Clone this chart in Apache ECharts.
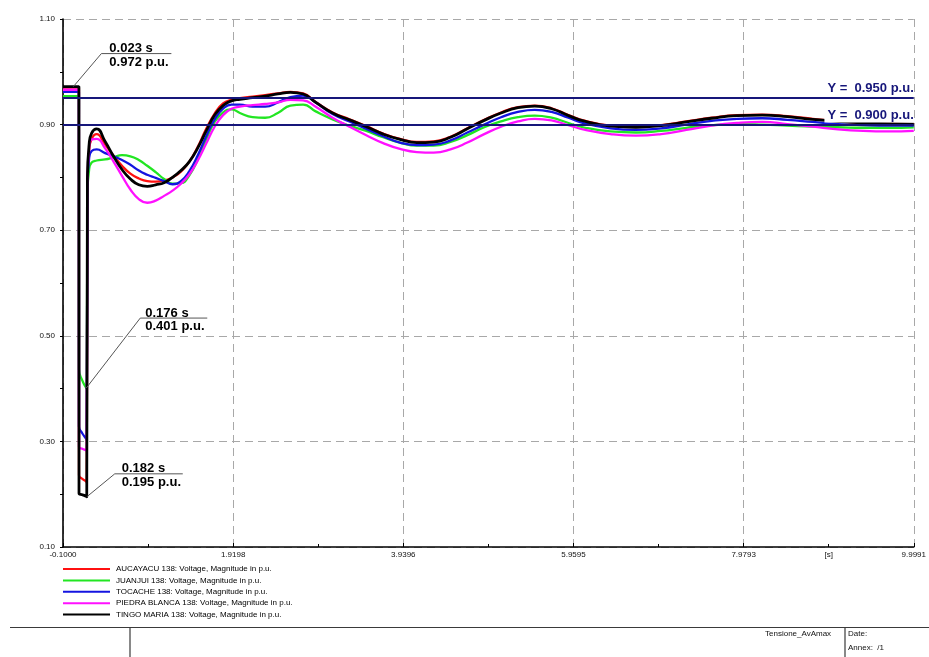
<!DOCTYPE html>
<html>
<head>
<meta charset="utf-8">
<title>Tensione_AvAmax</title>
<script src="https://cdn.jsdelivr.net/npm/echarts@6/dist/echarts.min.js"></script>
<style>
  html, body { margin: 0; padding: 0; background: #ffffff; }
  #main { width: 929px; height: 657px; }
</style>
</head>
<body>
<div id="main"></div>
<script>
// Simulation time [s]
const time = [
  -0.1, 0.023, 0.089, 0.09, 0.13, 0.176, 0.182, 0.19, 0.21, 0.24,
  0.30, 0.40, 0.50, 0.60, 0.70, 0.80, 0.90, 1.00, 1.10, 1.20,
  1.30, 1.40, 1.50, 1.60, 1.70, 1.80, 1.90, 2.00, 2.15, 2.30,
  2.45, 2.60, 2.75, 2.90, 3.10, 3.30, 3.50, 3.70, 3.90, 4.10,
  4.30, 4.50, 4.70, 4.90, 5.10, 5.30, 5.50, 5.70, 5.90, 6.10,
  6.40, 6.70, 7.00, 7.30, 7.60, 7.90, 8.20, 8.50, 8.80, 9.10,
  9.40, 9.70, 9.9991
];

// Bus voltages, magnitude in p.u.
const aucayacu = [
  0.970, 0.970, 0.970, 0.236, 0.229, 0.224, 0.222, 0.780, 0.850, 0.873,
  0.882, 0.862, 0.841, 0.822, 0.807, 0.798, 0.793, 0.792, 0.794, 0.800,
  0.811, 0.830, 0.858, 0.892, 0.921, 0.940, 0.947, 0.950, 0.953, 0.956,
  0.959, 0.962, 0.959, 0.943, 0.923, 0.910, 0.897, 0.883, 0.873, 0.867,
  0.868, 0.877, 0.893, 0.909, 0.923, 0.933, 0.936, 0.931, 0.918, 0.907,
  0.898, 0.896, 0.899, 0.906, 0.913, 0.918, 0.919, 0.916, 0.911, 0.906,
  0.903, 0.902, 0.901
];
const juanjui = [
  0.954, 0.954, 0.954, 0.436, 0.415, 0.401, 0.400, 0.770, 0.815, 0.828,
  0.832, 0.834, 0.838, 0.842, 0.840, 0.833, 0.822, 0.810, 0.797, 0.788,
  0.789, 0.804, 0.834, 0.872, 0.905, 0.923, 0.929, 0.922, 0.914, 0.913,
  0.922, 0.936, 0.938, 0.925, 0.910, 0.898, 0.888, 0.876, 0.866, 0.860,
  0.860, 0.867, 0.880, 0.895, 0.906, 0.914, 0.917, 0.913, 0.903, 0.894,
  0.887, 0.885, 0.888, 0.894, 0.899, 0.901, 0.900, 0.898, 0.896, 0.895,
  0.894, 0.894, 0.895
];
const tocache = [
  0.962, 0.962, 0.962, 0.328, 0.315, 0.305, 0.303, 0.780, 0.836, 0.850,
  0.853, 0.846, 0.840, 0.833, 0.824, 0.813, 0.805, 0.799, 0.793, 0.787,
  0.793, 0.812, 0.842, 0.878, 0.910, 0.930, 0.938, 0.938, 0.934, 0.934,
  0.942, 0.952, 0.955, 0.942, 0.920, 0.906, 0.892, 0.878, 0.866, 0.861,
  0.862, 0.870, 0.885, 0.900, 0.914, 0.924, 0.928, 0.924, 0.913, 0.902,
  0.893, 0.890, 0.893, 0.900, 0.907, 0.911, 0.912, 0.909, 0.905, 0.901,
  0.899, 0.898, 0.898
];
const piedraBlanca = [
  0.966, 0.966, 0.966, 0.290, 0.286, 0.283, 0.282, 0.780, 0.855, 0.872,
  0.873, 0.855, 0.830, 0.803, 0.777, 0.759, 0.752, 0.756, 0.765, 0.775,
  0.788, 0.806, 0.832, 0.864, 0.896, 0.918, 0.930, 0.934, 0.937, 0.939,
  0.942, 0.947, 0.946, 0.934, 0.913, 0.896, 0.880, 0.865, 0.854, 0.848,
  0.847, 0.853, 0.866, 0.882, 0.896, 0.906, 0.911, 0.908, 0.899, 0.890,
  0.882, 0.879, 0.882, 0.890, 0.898, 0.903, 0.905, 0.901, 0.896, 0.891,
  0.888, 0.887, 0.888
];
const tingoMaria = [
  0.972, 0.972, 0.972, 0.202, 0.199, 0.196, 0.195, 0.800, 0.862, 0.884,
  0.892, 0.868, 0.840, 0.815, 0.797, 0.786, 0.783, 0.786, 0.790, 0.800,
  0.813, 0.830, 0.856, 0.888, 0.918, 0.936, 0.945, 0.948, 0.951, 0.954,
  0.958, 0.961, 0.958, 0.942, 0.922, 0.909, 0.896, 0.882, 0.872, 0.866,
  0.867, 0.876, 0.892, 0.908, 0.922, 0.932, 0.935, 0.930, 0.917, 0.906,
  0.897, 0.895, 0.898, 0.905, 0.912, 0.917, 0.918, 0.915, 0.910, 0.906,
  0.903, 0.902, 0.901
];

const seriesNames = [
  'AUCAYACU 138: Voltage, Magnitude in p.u.',
  'JUANJUI 138: Voltage, Magnitude in p.u.',
  'TOCACHE 138: Voltage, Magnitude in p.u.',
  'PIEDRA BLANCA 138: Voltage, Magnitude in p.u.',
  'TINGO MARIA 138: Voltage, Magnitude in p.u.'
];
const seriesValues = [aucayacu, juanjui, tocache, piedraBlanca, tingoMaria];
const seriesColors = ['#ff1010', '#22e622', '#1414e0', '#ff10ff', '#000000'];

// Axis ticks
const xTicks = [-0.1000, 1.9198, 3.9396, 5.9595, 7.9793, 9.9991];
const yTicks = [0.10, 0.30, 0.50, 0.70, 0.90, 1.10];

// Horizontal limit lines [p.u.]
const limitLevels = [0.950, 0.900];

// Cursor readouts: series index and sample index
const readouts = [
  { s: 4, i: 1 },
  { s: 1, i: 5 },
  { s: 4, i: 6 }
];
// Leader-line offsets for the readouts (pixels)
const readoutLayout = [
  { dx: 28, dy: -33, len: 70, tx: 8 },
  { dx: 54, dy: -70, len: 67, tx: 5 },
  { dx: 28, dy: -23, len: 68, tx: 7 }
];

const FONT = '"Liberation Sans", Arial, Helvetica, sans-serif';
const NAVY = '#16167a';

const chart = echarts.init(document.getElementById('main'), null, { renderer: 'canvas' });

const xMin = xTicks[0], xMax = xTicks[xTicks.length - 1];
const xInterval = +((xMax - xMin) / (xTicks.length - 1)).toFixed(5);
const yMin = yTicks[0], yMax = yTicks[yTicks.length - 1];
const yInterval = +((yMax - yMin) / (yTicks.length - 1)).toFixed(5);

const series = seriesNames.map((name, k) => {
  const s = {
    name: name,
    type: 'line',
    data: time.map((t, i) => [t, seriesValues[k][i]]),
    showSymbol: false,
    symbol: 'none',
    smooth: 0.5,
    lineStyle: { color: seriesColors[k], width: k === 4 ? 2.8 : 2.3 },
    itemStyle: { color: seriesColors[k] },
    emphasis: { disabled: true },
    z: 2 + k * 0.01
  };
  if (k === 4) {
    s.markLine = {
      silent: true,
      symbol: 'none',
      animation: false,
      lineStyle: { color: NAVY, width: 1.8, type: 'solid' },
      label: {
        show: true,
        position: 'insideEndTop',
        distance: [0, 2],
        color: NAVY,
        fontFamily: FONT,
        fontWeight: 'bold',
        fontSize: 13,
        backgroundColor: '#ffffff',
        padding: [1, 0, 1, 3]
      },
      data: limitLevels.map(v => ({
        yAxis: v,
        label: { formatter: 'Y =  ' + v.toFixed(3) + ' p.u.' }
      }))
    };
  }
  return s;
});

const option = {
  backgroundColor: '#ffffff',
  animation: false,
  grid: { left: 63, top: 19, width: 853, height: 528, containLabel: false },
  legend: {
    show: true,
    orient: 'vertical',
    left: 63,
    top: 564,
    padding: 0,
    icon: 'rect',
    itemWidth: 47,
    itemHeight: 2,
    itemGap: 1.4,
    textStyle: { fontFamily: FONT, fontSize: 8, color: '#000', lineHeight: 10, padding: [0, 0, 0, 1] },
    selectedMode: false,
    data: seriesNames
  },
  xAxis: {
    type: 'value',
    min: xMin,
    max: xMax,
    interval: xInterval,
    axisLine: { show: true, onZero: false, lineStyle: { color: '#000', width: 1.6 } },
    axisTick: { show: true, inside: true, length: 4, lineStyle: { color: '#000', width: 1 } },
    minorTick: { show: true, splitNumber: 2, length: 3, lineStyle: { color: '#000', width: 1 } },
    axisLabel: {
      fontFamily: FONT, fontSize: 8, color: '#111', margin: 4,
      formatter: v => v.toFixed(4)
    },
    splitLine: { show: true, lineStyle: { color: '#a8a8a8', width: 1, type: [8, 5] } }
  },
  yAxis: {
    type: 'value',
    min: yMin,
    max: yMax,
    interval: yInterval,
    axisLine: { show: true, onZero: false, lineStyle: { color: '#000', width: 1.6 } },
    axisTick: { show: true, inside: false, length: 3, lineStyle: { color: '#000', width: 1 } },
    minorTick: { show: true, splitNumber: 2, length: 3, lineStyle: { color: '#000', width: 1 } },
    axisLabel: {
      fontFamily: FONT, fontSize: 8, color: '#111', margin: 8,
      formatter: v => v.toFixed(2)
    },
    splitLine: { show: true, lineStyle: { color: '#a8a8a8', width: 1, type: [8, 5] } }
  },
  series: series
};

chart.setOption(option);

// Cursor readouts and page footer
function buildGraphics() {
  const g = [];
  readouts.forEach((r, n) => {
    const t = time[r.i];
    const v = seriesValues[r.s][r.i];
    const p = chart.convertToPixel({ xAxisIndex: 0, yAxisIndex: 0 }, [t, v]);
    const L = readoutLayout[n];
    const ex = p[0] + L.dx, ey = p[1] + L.dy;
    g.push({
      type: 'polyline', silent: true, z: 50,
      shape: { points: [[p[0], p[1]], [ex, ey], [ex + L.len, ey]] },
      style: { stroke: '#555', lineWidth: 1, fill: null }
    });
    g.push({
      type: 'text', silent: true, z: 51,
      x: ex + L.tx, y: ey + 1.5,
      style: {
        text: t.toFixed(3) + ' s', fill: '#000',
        fontFamily: FONT, fontWeight: 'bold', fontSize: 13,
        textAlign: 'left', textVerticalAlign: 'bottom'
      }
    });
    g.push({
      type: 'text', silent: true, z: 51,
      x: ex + L.tx, y: ey + 2,
      style: {
        text: v.toFixed(3) + ' p.u.', fill: '#000',
        fontFamily: FONT, fontWeight: 'bold', fontSize: 13,
        textAlign: 'left', textVerticalAlign: 'top'
      }
    });
  });

  // axis unit between the last two ticks
  const sx = chart.convertToPixel({ xAxisIndex: 0 }, (xTicks[4] + xTicks[5]) / 2);
  const sy = chart.convertToPixel({ yAxisIndex: 0 }, yMin);
  g.push({
    type: 'text', silent: true, x: sx, y: sy + 4,
    style: { text: '[s]', fill: '#111', fontFamily: FONT, fontSize: 8, textAlign: 'center', textVerticalAlign: 'top' }
  });

  // footer frame
  const lineStyle = { stroke: '#3a3a3a', lineWidth: 1.2 };
  g.push({ type: 'line', silent: true, shape: { x1: 10, y1: 627.5, x2: 929, y2: 627.5 }, style: lineStyle });
  g.push({ type: 'line', silent: true, shape: { x1: 130, y1: 627.5, x2: 130, y2: 657 }, style: lineStyle });
  g.push({ type: 'line', silent: true, shape: { x1: 845, y1: 627.5, x2: 845, y2: 657 }, style: lineStyle });
  const footText = (txt, x, y) => ({
    type: 'text', silent: true, x: x, y: y,
    style: { text: txt, fill: '#111', fontFamily: FONT, fontSize: 8, textAlign: 'left', textVerticalAlign: 'middle' }
  });
  g.push(footText('Tensione_AvAmax', 765, 634));
  g.push(footText('Date:', 848, 634));
  g.push(footText('Annex:  /1', 848, 648));
  return g;
}

chart.setOption({ graphic: buildGraphics() });
</script>
</body>
</html>
